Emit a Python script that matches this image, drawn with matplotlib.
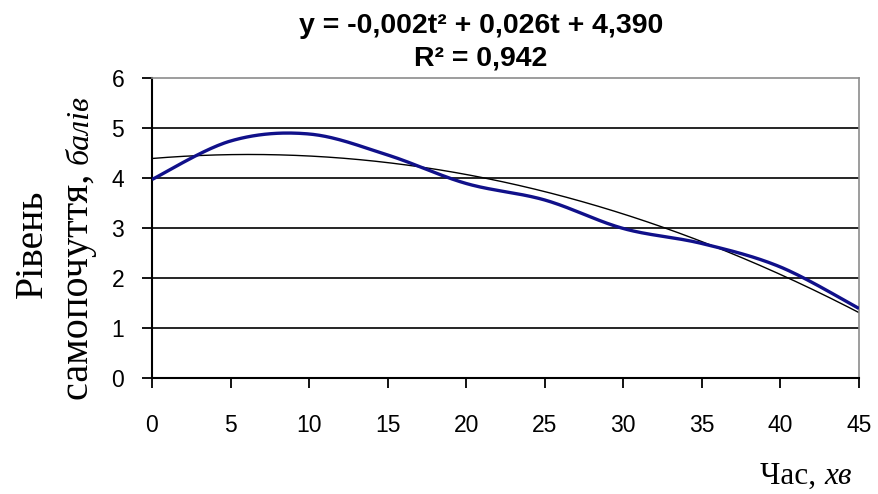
import numpy as np
import matplotlib
matplotlib.use("Agg")
import matplotlib.pyplot as plt

# Self-assessment score over time (minutes)
t = [0, 5, 10, 15, 20, 25, 30, 35, 40, 45]
score = [3.97, 4.74, 4.88, 4.46, 3.89, 3.56, 2.99, 2.69, 2.22, 1.39]

# Quadratic trend: y = a*t^2 + b*t + c
trend_coef = [-0.0021, 0.026, 4.390]
r_squared = 0.942

x_ticks = [0, 5, 10, 15, 20, 25, 30, 35, 40, 45]
y_ticks = [0, 1, 2, 3, 4, 5, 6]


def smooth_curve(xs, ys, n=40):
    # Catmull-Rom style bezier through the points (like a smoothed spreadsheet line)
    xs = np.asarray(xs, float)
    ys = np.asarray(ys, float)
    px = np.concatenate([[xs[0]], xs, [xs[-1]]])
    py = np.concatenate([[ys[0]], ys, [ys[-1]]])
    out_x, out_y = [], []
    s = np.linspace(0, 1, n)
    for i in range(1, len(px) - 2):
        p0 = np.array([px[i - 1], py[i - 1]])
        p1 = np.array([px[i], py[i]])
        p2 = np.array([px[i + 1], py[i + 1]])
        p3 = np.array([px[i + 2], py[i + 2]])
        c1 = p1 + (p2 - p0) / 6
        c2 = p2 - (p3 - p1) / 6
        pts = ((1 - s) ** 3)[:, None] * p1 + (3 * (1 - s) ** 2 * s)[:, None] * c1 \
            + (3 * (1 - s) * s ** 2)[:, None] * c2 + (s ** 3)[:, None] * p2
        out_x.extend(pts[:, 0])
        out_y.extend(pts[:, 1])
    return np.array(out_x), np.array(out_y)


def fmt(v):
    return f"{v:.3f}".replace(".", ",")


sans = "Liberation Sans"
serif = "Liberation Serif"
W, H = 879, 494

fig = plt.figure(figsize=(W / 100, H / 100), dpi=100)
ax = fig.add_axes([152 / W, 1 - 378 / H, (859 - 152) / W, 300 / H])

# gridlines
for v in y_ticks[1:-1]:
    ax.axhline(v, color="black", lw=1.2, zorder=1)

# trend line
tt = np.linspace(0, 45, 400)
a, b, c = trend_coef
ax.plot(tt, a * tt ** 2 + b * tt + c, color="black", lw=1.0, zorder=2)

# data line
sx, sy = smooth_curve(t, score)
ax.plot(sx, sy, color="#10108a", lw=2.4, solid_capstyle="butt", zorder=3)

ax.set_xlim(0, 45)
ax.set_ylim(0, 6)
ax.set_xticks(x_ticks)
ax.set_yticks(y_ticks)
ax.set_xticklabels([str(v) for v in x_ticks], fontfamily=sans, fontsize=16.5)
ax.set_yticklabels([str(v) for v in y_ticks], fontfamily=sans, fontsize=16.5)
ax.tick_params(axis="x", direction="out", length=7, width=1.3, pad=19)
ax.tick_params(axis="y", direction="out", length=7, width=1.3, pad=13)

for side in ["left", "bottom"]:
    ax.spines[side].set_color("black")
    ax.spines[side].set_linewidth(1.5)
for side in ["top", "right"]:
    ax.spines[side].set_color("#8c8c8c")
    ax.spines[side].set_linewidth(1.2)

# title with the trend equation
sign_b = "+" if b >= 0 else "-"
sign_c = "+" if c >= 0 else "-"
line1 = f"y = {fmt(a)}t\u00b2 {sign_b} {fmt(abs(b))}t {sign_c} {fmt(c)}"
line2 = f"R\u00b2 = {fmt(r_squared)}"
fig.text(481 / W, 1 - 33 / H, line1, ha="center", va="baseline",
         fontfamily=sans, fontweight="bold", fontsize=20.5)
fig.text(481 / W, 1 - 65 / H, line2, ha="center", va="baseline",
         fontfamily=sans, fontweight="bold", fontsize=20.5)

# y-axis label (two lines, second line mixed upright/italic)
fig.canvas.draw()
renderer = fig.canvas.get_renderer()

fig.text(42 / W, 1 - 298 / H, "Рівень", rotation=90, rotation_mode="anchor",
         ha="left", va="baseline", fontfamily=serif, fontsize=28.5)

y_start = 400
part1 = fig.text(88 / W, 1 - y_start / H, "самопочуття, ", rotation=90,
                 rotation_mode="anchor", ha="left", va="baseline",
                 fontfamily=serif, fontsize=29)
h1 = part1.get_window_extent(renderer).height
fig.text(88 / W, 1 - (y_start - h1) / H, "балів", rotation=90,
         rotation_mode="anchor", ha="left", va="baseline",
         fontfamily=serif, fontstyle="italic", fontsize=23)

# x-axis label
xl = fig.text(760 / W, 1 - 484 / H, "Час, ", ha="left", va="baseline",
              fontfamily=serif, fontsize=22.5)
w1 = xl.get_window_extent(renderer).width
fig.text((760 + w1) / W, 1 - 484 / H, "хв", ha="left", va="baseline",
         fontfamily=serif, fontstyle="italic", fontsize=22.5)

fig.savefig("out.png", dpi=100)
